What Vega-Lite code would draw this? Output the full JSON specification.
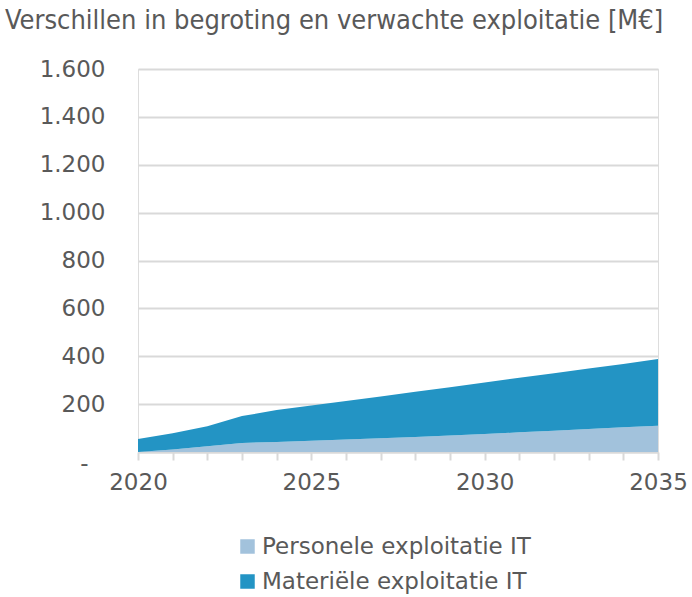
{
  "$schema": "https://vega.github.io/schema/vega-lite/v6.json",
  "width": 520,
  "height": 383,
  "autosize": "none",
  "padding": {"left": 138, "top": 69, "right": 34, "bottom": 145},
  "background": "white",
  "title": {
    "text": "Verschillen in begroting en verwachte exploitatie [M€]",
    "anchor": "start",
    "frame": "group",
    "dx": -133,
    "offset": 23,
    "font": "Liberation Sans Narrow, DejaVu Sans Condensed",
    "fontSize": 27,
    "fontWeight": "normal",
    "color": "#595959"
  },
  "data": {
    "values": [
      {"year": 2020, "serie": "Personele exploitatie IT", "value": 0},
      {"year": 2021, "serie": "Personele exploitatie IT", "value": 10},
      {"year": 2022, "serie": "Personele exploitatie IT", "value": 24},
      {"year": 2023, "serie": "Personele exploitatie IT", "value": 38},
      {"year": 2024, "serie": "Personele exploitatie IT", "value": 42},
      {"year": 2025, "serie": "Personele exploitatie IT", "value": 47},
      {"year": 2026, "serie": "Personele exploitatie IT", "value": 52},
      {"year": 2027, "serie": "Personele exploitatie IT", "value": 57},
      {"year": 2028, "serie": "Personele exploitatie IT", "value": 63},
      {"year": 2029, "serie": "Personele exploitatie IT", "value": 69},
      {"year": 2030, "serie": "Personele exploitatie IT", "value": 75},
      {"year": 2031, "serie": "Personele exploitatie IT", "value": 82},
      {"year": 2032, "serie": "Personele exploitatie IT", "value": 89},
      {"year": 2033, "serie": "Personele exploitatie IT", "value": 96},
      {"year": 2034, "serie": "Personele exploitatie IT", "value": 103},
      {"year": 2035, "serie": "Personele exploitatie IT", "value": 110},
      {"year": 2020, "serie": "Materiële exploitatie IT", "value": 54},
      {"year": 2021, "serie": "Materiële exploitatie IT", "value": 68},
      {"year": 2022, "serie": "Materiële exploitatie IT", "value": 84},
      {"year": 2023, "serie": "Materiële exploitatie IT", "value": 112},
      {"year": 2024, "serie": "Materiële exploitatie IT", "value": 133},
      {"year": 2025, "serie": "Materiële exploitatie IT", "value": 147},
      {"year": 2026, "serie": "Materiële exploitatie IT", "value": 161},
      {"year": 2027, "serie": "Materiële exploitatie IT", "value": 175},
      {"year": 2028, "serie": "Materiële exploitatie IT", "value": 189},
      {"year": 2029, "serie": "Materiële exploitatie IT", "value": 202},
      {"year": 2030, "serie": "Materiële exploitatie IT", "value": 215},
      {"year": 2031, "serie": "Materiële exploitatie IT", "value": 228},
      {"year": 2032, "serie": "Materiële exploitatie IT", "value": 240},
      {"year": 2033, "serie": "Materiële exploitatie IT", "value": 253},
      {"year": 2034, "serie": "Materiële exploitatie IT", "value": 265},
      {"year": 2035, "serie": "Materiële exploitatie IT", "value": 278}
    ]
  },
  "mark": {"type": "area", "opacity": 1},
  "encoding": {
    "x": {
      "field": "year",
      "type": "quantitative",
      "scale": {"domain": [2020, 2035], "nice": false, "zero": false},
      "axis": {
        "title": null,
        "values": [2020, 2021, 2022, 2023, 2024, 2025, 2026, 2027, 2028, 2029, 2030, 2031, 2032, 2033, 2034, 2035],
        "labelExpr": "datum.value % 5 == 0 ? datum.value + '' : ''",
        "grid": false,
        "domainColor": "#d9d9d9",
        "domainWidth": 2,
        "tickColor": "#d9d9d9",
        "tickWidth": 2,
        "tickSize": 8,
        "labelFont": "DejaVu Sans",
        "labelFontSize": 23,
        "labelColor": "#595959",
        "labelPadding": 11,
        "labelFlush": false,
        "labelOverlap": false
      }
    },
    "y": {
      "field": "value",
      "type": "quantitative",
      "stack": "zero",
      "scale": {"domain": [0, 1600], "nice": false},
      "axis": {
        "title": null,
        "values": [0, 200, 400, 600, 800, 1000, 1200, 1400, 1600],
        "labelExpr": "datum.value == 0 ? '-' : replace(format(datum.value, ','), ',', '.')",
        "labelBaseline": {"condition": {"test": "datum.value == 0", "value": "top"}, "value": "middle"},
        "labelPadding": {"condition": {"test": "datum.value == 0", "value": 50}, "value": 33},
        "domain": false,
        "ticks": false,
        "gridColor": "#d9d9d9",
        "gridWidth": 2,
        "labelFont": "DejaVu Sans",
        "labelFontSize": 23,
        "labelColor": "#595959"
      }
    },
    "color": {
      "field": "serie",
      "type": "nominal",
      "scale": {
        "domain": ["Personele exploitatie IT", "Materiële exploitatie IT"],
        "range": ["#a2c2dc", "#2394c4"]
      },
      "legend": {
        "title": null,
        "orient": "none",
        "legendX": 98,
        "legendY": 466,
        "direction": "vertical",
        "symbolType": "square",
        "symbolSize": 210,
        "symbolStrokeWidth": 0,
        "labelFont": "DejaVu Sans",
        "labelFontSize": 23,
        "labelColor": "#595959",
        "labelLimit": 500,
        "labelOffset": 3,
        "rowPadding": 11
      }
    },
    "order": {"field": "serie", "sort": "descending"}
  }
}
